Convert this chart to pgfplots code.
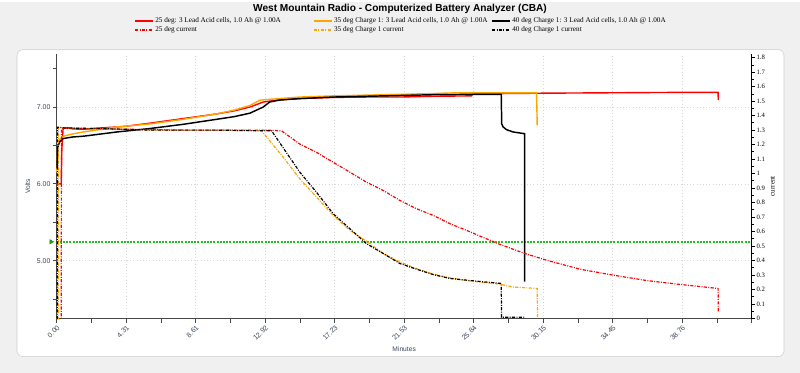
\documentclass[border=0pt]{standalone}
\usepackage{fontspec}
\setmainfont{Liberation Sans}
\newfontfamily\tnr{Liberation Serif}
\usepackage{pgfplots}
\pgfplotsset{compat=1.18}
\definecolor{bg}{RGB}{240,240,240}
\definecolor{panelborder}{RGB}{205,205,205}
\definecolor{ticklab}{RGB}{60,70,90}
\definecolor{orng}{RGB}{255,165,0}
\definecolor{grn}{RGB}{30,195,30}
\definecolor{axgray}{RGB}{70,70,70}
\definecolor{gridc}{RGB}{215,215,215}
\tikzset{dashdot/.style={dash pattern=on 2.4pt off 1pt on 0.7pt off 1pt}}
\pgfplotsset{
  legaxis/.style={
    at={(42.5pt,40.5pt)}, anchor=south west,
    scale only axis, width=521.25pt, height=198.45pt,
    xmin=0, xmax=1, ymin=0, ymax=1, hide axis, xtick=\empty, ytick=\empty,
    legend columns=1, legend cell align=left,
    legend style={draw=none, fill=none, anchor=north west,
      font=\tnr\fontsize{5.4}{6}\selectfont, inner sep=0pt, row sep=0pt,
      nodes={inner ysep=0.6pt, inner xsep=1pt}},
    legend image code/.code={\draw[mark repeat=2,mark phase=2,##1] plot coordinates {(0pt,0pt) (6.75pt,0pt) (13.5pt,0pt)};},
  }
}
\begin{document}
\begin{tikzpicture}
\fill[bg] (0,0) rectangle (600pt,278.25pt);
\filldraw[fill=white, draw=panelborder, rounded corners=4.5pt] (12.75pt,12pt) rectangle (588pt,242.25pt);
\node[font=\bfseries\fontsize{7.6}{9}\selectfont] at (300pt,272.6pt) {West Mountain Radio - Computerized Battery Analyzer (CBA)};
\begin{axis}[
  at={(42.5pt,40.5pt)}, anchor=south west,
  scale only axis, width=521.25pt, height=198.45pt,
  xmin=0, xmax=43.07, ymin=4.245, ymax=7.69,
  axis x line*=bottom, axis y line*=left,
  axis line style={-, line width=1.1pt, axgray},
  xtick={0,4.307,8.614,12.921,17.228,21.535,25.842,30.149,34.456,38.763,43.07},
  xticklabels={0.00,4.31,8.61,12.92,17.23,21.53,25.84,30.15,34.45,38.76,{}},
  minor x tick num=1,
  ytick={5,6,7}, yticklabels={5.00,6.00,7.00},
  minor ytick={4.5,5.5,6.5,7.5},
  tick align=outside, major tick length=3pt, minor tick length=3pt,
  tick style={axgray, line width=0.6pt},
  xmajorgrids, ymajorgrids,
  grid style={gridc, dotted, line width=0.4pt},
  /pgf/number format/assume math mode=true,
  x tick label style={rotate=45, anchor=north east, font=\fontsize{5.3}{6}\selectfont, text=ticklab, inner sep=1pt},
  y tick label style={font=\fontsize{5.2}{6}\selectfont, text=ticklab, inner sep=1.5pt},
  xlabel={Minutes}, ylabel={Volts},
  xlabel style={font=\fontsize{5}{6}\selectfont, text=ticklab, at={(axis description cs:0.5,-0.115)}, anchor=center},
  ylabel style={font=\fontsize{5}{6}\selectfont, text=ticklab, at={(axis description cs:-0.0417,0.5)}, anchor=center},
  clip=false,
]
% green limit line
\addplot[grn, dash pattern=on 1.4pt off 1pt, line width=1.15pt] coordinates {(0,5.245) (43.07,5.245)};
\addplot[grn!80!black, only marks, mark=triangle*, mark size=1.9pt, mark options={xshift=-4.2pt, rotate=-90}] coordinates {(0,5.245)};
% 25 deg voltage
\addplot[red, line width=1.05pt] coordinates {
(0,6.00) (0.28,6.00) (0.32,6.45) (0.40,6.72) (0.7,6.73) (1.0,6.715) (1.65,6.71) (2.5,6.725)
(3.72,6.74) (4.31,6.75) (5.78,6.79) (7.84,6.85) (9.91,6.91) (11.0,6.95) (11.98,7.00)
(12.8,7.065) (13.8,7.095) (15.07,7.11) (17.14,7.125) (19.2,7.13) (21.27,7.13) (23.3,7.14)
(25.7,7.145) (25.8,7.17) (27.46,7.175) (30,7.18) (34,7.185) (38,7.19) (40.99,7.19) (41.0,7.09)};
% 35 deg voltage
\addplot[orng, line width=1.05pt] coordinates {
(0,6.15) (0.05,6.40) (0.1,6.52) (0.2,6.58) (0.41,6.62) (1.0,6.65) (1.65,6.675) (2.6,6.705)
(3.72,6.74) (5.78,6.78) (7.84,6.84) (9.91,6.91) (11.0,6.96) (11.98,7.02) (12.6,7.09)
(13.8,7.11) (15.07,7.13) (17.14,7.145) (19.2,7.155) (21.27,7.165) (23.3,7.175) (24.67,7.185)
(27.46,7.185) (29.74,7.185) (29.78,6.76)};
% 40 deg voltage
\addplot[black, line width=1.1pt] coordinates {
(0.02,6.20) (0.05,6.40) (0.1,6.50) (0.2,6.55) (0.41,6.59) (1.0,6.61) (1.65,6.62) (3.72,6.675)
(5.78,6.72) (7.84,6.775) (9.91,6.84) (11.0,6.875) (11.98,6.92) (12.8,7.0) (13.2,7.065)
(13.8,7.09) (15.07,7.11) (17.14,7.13) (19.2,7.14) (21.27,7.15) (23.3,7.16) (25.8,7.165)
(27.55,7.165) (27.58,6.78) (27.67,6.74) (27.88,6.705) (28.29,6.675) (29.0,6.653) (29.0,4.727)};
\end{axis}
\begin{axis}[
  at={(42.5pt,40.5pt)}, anchor=south west,
  scale only axis, width=521.25pt, height=198.45pt,
  xmin=0, xmax=43.07, ymin=0, ymax=1.825,
  axis x line=none, axis y line*=right, xtick=\empty,
  axis line style={-, line width=1.1pt, black},
  ytick={0,0.1,0.2,0.3,0.4,0.5,0.6,0.7,0.8,0.9,1.0,1.1,1.2,1.3,1.4,1.5,1.6,1.7,1.8},
  yticklabels={0,0.1,0.2,0.3,0.4,0.5,0.6,0.7,0.8,0.9,1,1.1,1.2,1.3,1.4,1.5,1.6,1.7,1.8},
  minor y tick num=1,
  tick align=outside, major tick length=2.5pt, minor tick length=2pt,
  tick style={black, line width=0.6pt},
  /pgf/number format/assume math mode=true,
  y tick label style={font=\tnr\fontsize{5}{6}\selectfont, inner sep=1pt},
  ylabel={current},
  ylabel style={font=\tnr\fontsize{5.4}{6}\selectfont, at={(axis description cs:1.030,0.5)}, anchor=center},
  clip=false,
]
% 25 deg current
\addplot[red, dashdot, line width=0.9pt] coordinates {
(0,0) (0.28,0) (0.30,1.31) (0.5,1.315) (2,1.31) (5,1.305) (8,1.30) (11,1.30) (13.0,1.30)
(13.94,1.295) (15.07,1.204) (16.1,1.147) (17.14,1.078) (18.17,1.010) (19.2,0.941) (20.24,0.884)
(21.27,0.815) (22.3,0.758) (23.33,0.712) (24.37,0.655) (25.4,0.609) (26.43,0.560) (27.36,0.517)
(28.91,0.453) (30.36,0.403) (32.42,0.341) (34.49,0.300) (36.55,0.263) (38.62,0.236) (40.99,0.208)
(41.0,0.048)};
% 35 deg current
\addplot[orng, dashdot, line width=0.9pt] coordinates {
(0,0) (0.10,0) (0.12,1.32) (0.5,1.315) (3,1.31) (6,1.30) (10,1.30) (12.70,1.295) (14.04,1.113)
(15.07,0.964) (16.1,0.838) (17.14,0.712) (18.17,0.609) (19.2,0.534) (20.24,0.449) (21.27,0.391)
(22.3,0.345) (23.33,0.307) (24.37,0.282) (25.4,0.263) (26.43,0.249) (27.36,0.240) (28.29,0.218)
(29.78,0.208) (29.80,0)};
% 40 deg current
\addplot[black, dashdot, line width=0.9pt] coordinates {
(0,0) (0.04,0) (0.05,1.32) (0.5,1.315) (3,1.31) (6,1.30) (10,1.30) (13.32,1.295) (15.07,1.010)
(16.1,0.872) (17.14,0.723) (18.17,0.620) (19.2,0.517) (20.24,0.449) (21.27,0.380) (22.3,0.341)
(23.33,0.304) (24.37,0.277) (26.43,0.254) (27.55,0.243) (27.57,0.01) (29.0,0.01)};
\end{axis}
% legends, one column each
\begin{axis}[legaxis, legend style={at={(axis description cs:0.1112,1.1413)}}]
\addlegendimage{red, line width=1.3pt}
\addlegendentry{25 deg: 3 Lead Acid cells, 1.0 Ah @ 1.00A}
\addlegendimage{red, dashdot, line width=1.1pt}
\addlegendentry{25 deg current}
\end{axis}
\begin{axis}[legaxis, legend style={at={(axis description cs:0.3685,1.1413)}}]
\addlegendimage{orng, line width=1.3pt}
\addlegendentry{35 deg Charge 1: 3 Lead Acid cells, 1.0 Ah @ 1.00A}
\addlegendimage{orng, dashdot, line width=1.1pt}
\addlegendentry{35 deg Charge 1 current}
\end{axis}
\begin{axis}[legaxis, legend style={at={(axis description cs:0.6249,1.1413)}}]
\addlegendimage{black, line width=1.3pt}
\addlegendentry{40 deg Charge 1: 3 Lead Acid cells, 1.0 Ah @ 1.00A}
\addlegendimage{black, dashdot, line width=1.1pt}
\addlegendentry{40 deg Charge 1 current}
\end{axis}
\end{tikzpicture}
\end{document}
